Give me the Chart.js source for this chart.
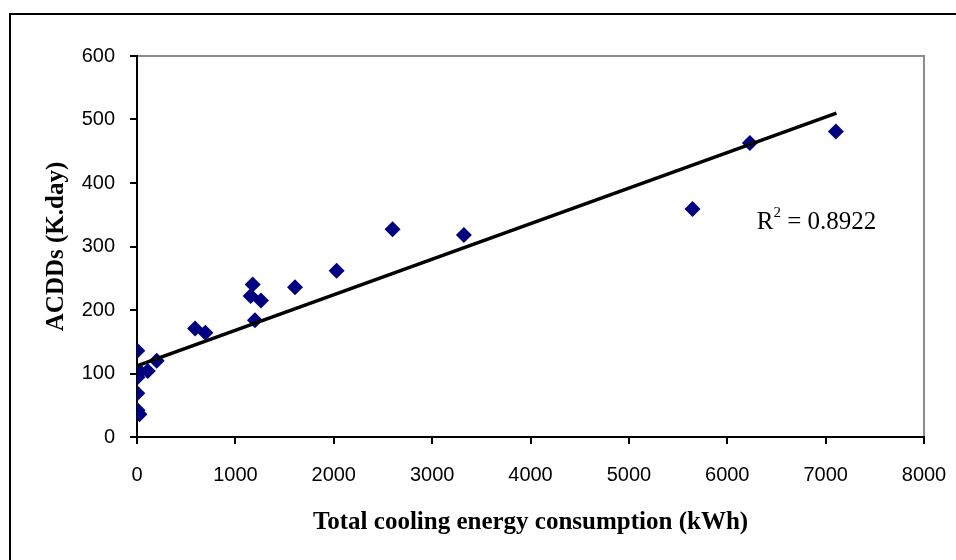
<!DOCTYPE html>
<html>
<head>
<meta charset="utf-8">
<script src="https://cdn.jsdelivr.net/npm/chart.js@4/dist/chart.umd.min.js"></script>
<style>
  html, body { margin: 0; padding: 0; background: #fff; }
  #wrap { width: 956px; height: 560px; position: relative; }
</style>
</head>
<body>
<div id="wrap"><canvas id="chart"></canvas></div>
<script>
// Observed points: cooling energy (kWh) vs ACDDs (K.day)
const energyKWh = [3, 200, 109, 30, 3, 5, 3, 5, 25, 590, 695, 1176, 1155, 1260, 1199, 1606, 2029, 2598, 3323, 5647, 6230, 7104];
const acdds = [136, 120, 104, 103, 100, 94, 69, 42, 36, 171, 164, 240, 222, 215, 184, 236, 262, 327, 318, 359, 463, 481];

// Linear trend line end points, as drawn in the source
const trendX = [0, 7110];
const trendY = [112, 510];

const xTicks = [0, 1000, 2000, 3000, 4000, 5000, 6000, 7000, 8000];
const yTicks = [0, 100, 200, 300, 400, 500, 600];

const rSquared = '0.8922';

const points = energyKWh.map((x, i) => ({ x, y: acdds[i] }));
const trend = trendX.map((x, i) => ({ x, y: trendY[i] }));

// Frame around the whole figure, gray top/right plot borders and the R² label
const decorations = {
  id: 'decorations',
  beforeDraw(chart) {
    const ctx = chart.ctx;
    ctx.save();
    ctx.fillStyle = '#fff';
    ctx.fillRect(0, 0, chart.width, chart.height);
    ctx.strokeStyle = '#000';
    ctx.lineWidth = 2;
    ctx.strokeRect(10, 14, 1200, 1200);
    const a = chart.chartArea;
    ctx.strokeStyle = '#8c8c8c';
    ctx.lineWidth = 2;
    ctx.beginPath();
    ctx.moveTo(a.left, a.top);
    ctx.lineTo(a.right, a.top);
    ctx.lineTo(a.right, a.bottom);
    ctx.stroke();
    ctx.restore();
  },
  afterDraw(chart) {
    const ctx = chart.ctx;
    const x0 = chart.scales.x.getPixelForValue(6300);
    const y0 = chart.scales.y.getPixelForValue(327);
    ctx.save();
    ctx.fillStyle = '#000';
    ctx.font = '25px "Liberation Serif"';
    ctx.textBaseline = 'alphabetic';
    ctx.fillText('R', x0, y0);
    let w = ctx.measureText('R').width;
    ctx.font = '15px "Liberation Serif"';
    ctx.fillText('2', x0 + w, y0 - 12);
    w += ctx.measureText('2').width;
    ctx.font = '25px "Liberation Serif"';
    ctx.fillText(' = ' + rSquared, x0 + w, y0);
    ctx.restore();
  }
};

const axisStyle = {
  border: { display: true, color: '#000', width: 2 },
  grid: { display: true, drawOnChartArea: false, drawTicks: true, tickLength: 7, color: '#000', lineWidth: 2 }
};

new Chart(document.getElementById('chart'), {
  type: 'scatter',
  data: {
    datasets: [
      {
        label: 'ACDDs',
        data: points,
        pointStyle: 'rectRot',
        pointRadius: 8,
        backgroundColor: '#000080',
        borderColor: '#000080',
        borderWidth: 0,
        order: 2
      },
      {
        label: 'Trend',
        type: 'line',
        data: trend,
        borderColor: '#000',
        borderWidth: 3.5,
        pointRadius: 0,
        fill: false,
        order: 1
      }
    ]
  },
  options: {
    responsive: true,
    maintainAspectRatio: false,
    animation: false,
    layout: { padding: { left: 0, top: 56, right: 32, bottom: 0 } },
    plugins: {
      legend: { display: false },
      tooltip: { enabled: false }
    },
    scales: {
      x: {
        type: 'linear',
        min: 0,
        max: 8000,
        ...axisStyle,
        afterBuildTicks: (scale) => { scale.ticks = xTicks.map(v => ({ value: v })); },
        afterFit: (scale) => {
          scale.height = 123;
          scale.paddingLeft = 0;
          scale.paddingRight = 0;
        },
        ticks: {
          padding: 19,
          color: '#000',
          font: { family: '"Liberation Sans"', size: 20 },
          maxRotation: 0,
          callback: (v) => String(v)
        },
        title: {
          display: true,
          text: 'Total cooling energy consumption (kWh)',
          color: '#000',
          font: { family: '"Liberation Serif"', size: 25, weight: 'bold' },
          padding: { top: 0, bottom: 22 }
        }
      },
      y: {
        type: 'linear',
        min: 0,
        max: 600,
        ...axisStyle,
        afterBuildTicks: (scale) => { scale.ticks = yTicks.map(v => ({ value: v })); },
        afterFit: (scale) => { scale.width = 137; },
        ticks: {
          padding: 15,
          color: '#000',
          font: { family: '"Liberation Sans"', size: 20 },
          callback: (v) => String(v)
        },
        title: {
          display: true,
          text: 'ACDDs (K.day)',
          color: '#000',
          font: { family: '"Liberation Serif"', size: 25, weight: 'bold' },
          padding: { top: 42, bottom: 0 }
        }
      }
    }
  },
  plugins: [decorations]
});
</script>
</body>
</html>
